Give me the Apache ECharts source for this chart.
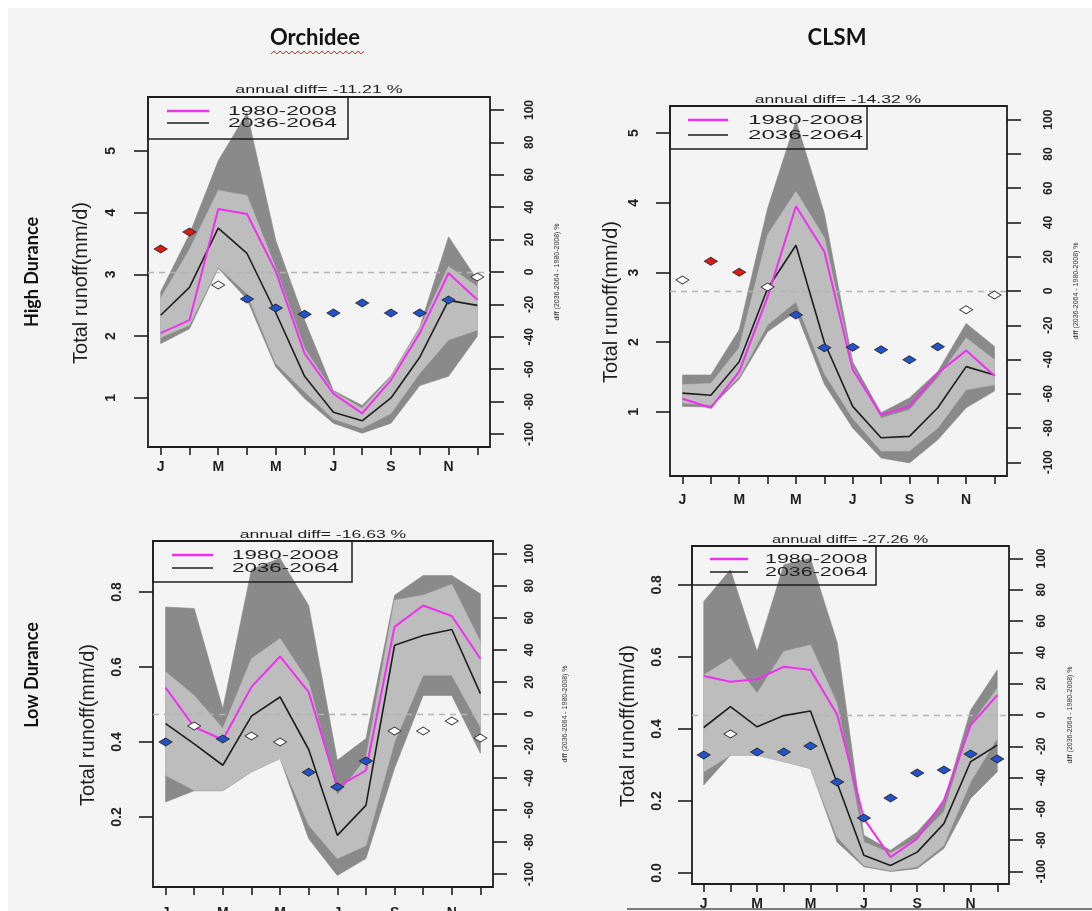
<!DOCTYPE html>
<html><head><meta charset="utf-8">
<script src="https://cdn.jsdelivr.net/npm/echarts@6.0.0/dist/echarts.min.js"></script>
<style>html,body{margin:0;padding:0;background:#f4f4f4}#c{width:1092px;height:911px}</style>
</head><body><div id="c"></div>
<script>
// ---------- data ----------
const months = ['J','F','M','A','M','J','J','A','S','O','N','D'];
const monthPos = [1,2,3,4,5,6,7,8,9,10,11,12];
const xLabelPos = [1,3,5,7,9,11];
const leftTicksHigh = [1,2,3,4,5];
const leftTicksLowOrc = [0.2,0.4,0.6,0.8];
const leftTicksLowClsm = [0.0,0.2,0.4,0.6,0.8];
const rightTicks = [-100,-80,-60,-40,-20,0,20,40,60,80,100];
const legendLabels = ['1980-2008','2036-2064'];
const modelTitles = ['Orchidee','CLSM'];
const basinLabels = ['High Durance','Low Durance'];
const yTitle = 'Total runoff(mm/d)';
const diffTitle = 'diff (2036-2064 - 1980-2008) %';
const annualDiff = ['-11.21','-14.32','-16.63','-27.26'];

// High Durance - Orchidee
const hiOrcHist  = [2.05,2.26,4.06,3.98,3.05,1.72,1.07,0.75,1.29,2.05,3.02,2.59];
const hiOrcFut   = [2.34,2.79,3.75,3.34,2.38,1.35,0.77,0.63,1.00,1.66,2.58,2.50];
const hiOrcDarkHi= [2.72,3.65,4.84,5.62,3.55,2.26,1.12,0.88,1.36,2.15,3.61,2.91];
const hiOrcDarkLo= [1.88,2.12,3.10,2.60,1.50,0.99,0.59,0.43,0.59,1.20,1.35,2.00];
const hiOrcLiteHi= [2.62,3.40,4.36,4.28,3.10,1.80,1.10,0.83,1.34,2.13,3.13,2.80];
const hiOrcLiteLo= [1.98,2.18,3.12,2.69,1.56,1.10,0.66,0.51,0.75,1.40,1.94,2.10];
const hiOrcDiff  = [14.2,24.7,-8.0,-16.7,-22.2,-26.0,-25.3,-19.1,-25.3,-25.3,-17.3,-3.1];
const hiOrcSig   = ['r','r','w','b','b','b','b','b','b','b','b','w'];

// High Durance - CLSM
const hiClsmHist  = [1.19,1.06,1.58,2.65,3.95,3.30,1.61,0.96,1.08,1.56,1.88,1.52];
const hiClsmFut   = [1.27,1.24,1.72,2.77,3.39,2.00,1.08,0.63,0.65,1.06,1.65,1.53];
const hiClsmDarkHi= [1.53,1.53,2.18,3.92,5.18,3.85,1.72,0.99,1.20,1.58,2.27,1.94];
const hiClsmDarkLo= [1.08,1.07,1.47,2.15,2.44,1.40,0.77,0.34,0.27,0.60,1.06,1.30];
const hiClsmLiteHi= [1.39,1.41,1.92,3.54,4.16,3.50,1.65,0.91,1.03,1.49,2.06,1.75];
const hiClsmLiteLo= [1.13,1.10,1.50,2.25,2.58,1.55,0.91,0.44,0.44,0.77,1.32,1.39];
const hiClsmDiff  = [6.4,17.4,11.0,2.3,-14.0,-33.1,-32.9,-34.3,-40.1,-32.6,-11.0,-2.3];
const hiClsmSig   = ['w','r','r','w','b','b','b','b','b','b','w','w'];

// Low Durance - Orchidee
const loOrcHist  = [0.545,0.440,0.406,0.547,0.628,0.533,0.280,0.324,0.707,0.764,0.736,0.622];
const loOrcFut   = [0.449,0.395,0.338,0.469,0.520,0.380,0.151,0.231,0.658,0.684,0.700,0.529];
const loOrcDarkHi= [0.760,0.756,0.489,0.860,0.890,0.764,0.351,0.409,0.791,0.844,0.844,0.795];
const loOrcDarkLo= [0.240,0.270,0.270,0.320,0.356,0.142,0.044,0.089,0.330,0.524,0.524,0.370];
const loOrcLiteHi= [0.587,0.524,0.436,0.622,0.676,0.560,0.258,0.356,0.778,0.791,0.820,0.667];
const loOrcLiteLo= [0.311,0.271,0.271,0.320,0.356,0.178,0.089,0.124,0.400,0.578,0.578,0.440];
const loOrcDiff  = [-17.5,-7.5,-15.6,-13.8,-17.5,-36.3,-45.6,-29.4,-10.6,-10.6,-4.4,-15.0];
const loOrcSig   = ['b','w','b','w','w','b','b','b','w','w','w','w'];

// Low Durance - CLSM
const loClsmHist  = [0.547,0.531,0.538,0.573,0.564,0.440,0.151,0.044,0.095,0.202,0.410,0.494];
const loClsmFut   = [0.404,0.462,0.406,0.437,0.450,0.250,0.049,0.021,0.058,0.137,0.309,0.355];
const loClsmDarkHi= [0.754,0.842,0.615,0.856,0.874,0.640,0.105,0.063,0.114,0.197,0.452,0.564];
const loClsmDarkLo= [0.244,0.327,0.327,0.309,0.290,0.085,0.017,0.004,0.012,0.068,0.207,0.281];
const loClsmLiteHi= [0.550,0.596,0.499,0.615,0.633,0.470,0.086,0.055,0.095,0.170,0.410,0.513];
const loClsmLiteLo= [0.281,0.327,0.327,0.309,0.290,0.100,0.021,0.007,0.017,0.077,0.253,0.374];
const loClsmDiff  = [-25.6,-12.1,-23.6,-23.6,-19.8,-42.8,-65.8,-53.0,-37.1,-35.1,-24.9,-28.1];
const loClsmSig   = ['b','w','b','b','b','b','b','b','b','b','b','b'];

// ---------- layout / style ----------
const C_DARK = '#8a8a8a', C_LITE = '#bdbdbd', C_MAG = '#f030f0', C_BLK = '#1e1e1e';
const sigColor = {r:'#e01a14', b:'#2252cc', w:'#ffffff'};
const FONT = 'Liberation Sans';

const panels = [
  {hist:hiOrcHist, fut:hiOrcFut, dHi:hiOrcDarkHi, dLo:hiOrcDarkLo, lHi:hiOrcLiteHi, lLo:hiOrcLiteLo, diff:hiOrcDiff, sig:hiOrcSig, ticks:leftTicksHigh, dec:0,
   box:[148,97,490,447], yMin:0.206, yMax:5.874, lM:30, nG:57, rM:34, rG:64, xM:13,
   leg:{x1:348,y1:139,lx0:167,lx1:209,tx:228,ya:111,yb:123,s:1.75}, ann:{x:319,y:90,s:1.62}},
  {hist:hiClsmHist, fut:hiClsmFut, dHi:hiClsmDarkHi, dLo:hiClsmDarkLo, lHi:hiClsmLiteHi, lLo:hiClsmLiteLo, diff:hiClsmDiff, sig:hiClsmSig, ticks:leftTicksHigh, dec:0,
   box:[670,106,1007,476], yMin:0.082, yMax:5.387, lM:29, nG:49, rM:36, rG:66, xM:17,
   leg:{x1:867,y1:149,lx0:688,lx1:728,tx:748,ya:120,yb:135,s:1.85}, ann:{x:838,y:100,s:1.6}},
  {hist:loOrcHist, fut:loOrcFut, dHi:loOrcDarkHi, dLo:loOrcDarkLo, lHi:loOrcLiteHi, lLo:loOrcLiteLo, diff:loOrcDiff, sig:loOrcSig, ticks:leftTicksLowOrc, dec:1,
   box:[153,541,493,887], yMin:0.0133, yMax:0.936, lM:29, nG:55, rM:31, rG:69, xM:19,
   leg:{x1:352,y1:582,lx0:172,lx1:213,tx:232,ya:555,yb:568,s:1.72}, ann:{x:323,y:535,s:1.6}},
  {hist:loClsmHist, fut:loClsmFut, dHi:loClsmDarkHi, dLo:loClsmDarkLo, lHi:loClsmLiteHi, lLo:loClsmLiteLo, diff:loClsmDiff, sig:loClsmSig, ticks:leftTicksLowClsm, dec:1,
   box:[692,546,1009,884], yMin:-0.0306, yMax:0.908, lM:28, nG:54, rM:27, rG:58, xM:13,
   leg:{x1:876,y1:585,lx0:710,lx1:748,tx:765,ya:559,yb:572,s:1.65}, ann:{x:850,y:540,s:1.5}}
];

const grids = [], xAxes = [], yAxes = [], series = [], graphics = [];

function bandSeries(p, lo, hi, color, z) {
  return {
    type:'custom', xAxisIndex:p, yAxisIndex:2*p, z:z, silent:true,
    data: monthPos.map((m,i) => [m, lo[i], hi[i]]),
    encode:{x:0, y:[1,2]},
    renderItem: function (params, api) {
      if (params.dataIndex !== 0) return null;
      const pts = [];
      for (let i = 0; i < monthPos.length; i++) pts.push(api.coord([monthPos[i], hi[i]]));
      for (let i = monthPos.length - 1; i >= 0; i--) pts.push(api.coord([monthPos[i], lo[i]]));
      return {type:'polygon', shape:{points:pts}, style:{fill:color, stroke:color, lineWidth:0.6}};
    }
  };
}

panels.forEach((P, p) => {
  const [x0,y0,x1,y1] = P.box;
  grids.push({left:x0, top:y0, width:x1-x0, height:y1-y0, show:true, borderColor:'#1e1e1e', borderWidth:1.8,
              backgroundColor:'transparent', containLabel:false, outerBoundsMode:'none'});
  xAxes.push({gridIndex:p, type:'value', min:0.56, max:12.44, position:'bottom',
    axisLine:{show:false, onZero:false}, splitLine:{show:false},
    axisTick:{show:true, customValues:monthPos, length:8, lineStyle:{color:'#1e1e1e', width:1.6}},
    axisLabel:{show:true, customValues:xLabelPos, formatter: v => months[Math.round(v)-1], margin:P.xM,
      fontSize:14, fontWeight:'bold', color:'#1e1e1e', fontFamily:FONT}});
  yAxes.push({gridIndex:p, type:'value', position:'left', min:P.yMin, max:P.yMax,
    axisLine:{show:false, onZero:false}, splitLine:{show:false},
    axisTick:{show:true, customValues:P.ticks, length:14, lineStyle:{color:'#1e1e1e', width:1.6}},
    axisLabel:{show:true, customValues:P.ticks, rotate:90, margin:P.lM,
      formatter: v => P.dec ? Number(v).toFixed(1) : String(Math.round(v)),
      fontSize:14, fontWeight:'bold', color:'#222', fontFamily:FONT},
    name:yTitle, nameLocation:'middle', nameRotate:90, nameGap:P.nG,
    nameTextStyle:{fontSize:20, color:'#1e1e1e', fontFamily:FONT, padding:[0,22,0,0]}});
  yAxes.push({gridIndex:p, type:'value', position:'right', min:-108, max:108,
    axisLine:{show:false, onZero:false}, splitLine:{show:false},
    axisTick:{show:true, customValues:rightTicks, length:14, lineStyle:{color:'#1e1e1e', width:1.6}},
    axisLabel:{show:true, customValues:rightTicks, rotate:90, margin:P.rM,
      formatter: v => String(Math.round(v)), fontSize:12, fontWeight:'bold', color:'#222', fontFamily:FONT},
    name:diffTitle, nameLocation:'middle', nameRotate:90, nameGap:P.rG,
    nameTextStyle:{fontSize:7, color:'#333', fontFamily:FONT}});

  series.push(bandSeries(p, P.dLo, P.dHi, C_DARK, 1));
  series.push(bandSeries(p, P.lLo, P.lHi, C_LITE, 2));
  series.push({type:'line', xAxisIndex:p, yAxisIndex:2*p+1, z:3, silent:true,
    data: monthPos.map((m,i) => [m, P.diff[i]]), symbol:'none', lineStyle:{opacity:0},
    markLine:{silent:true, symbol:['none','none'], label:{show:false}, animation:false,
      lineStyle:{type:[6,5], color:'#b4b4b4', width:1.3}, data:[{yAxis:0}]}});
  series.push({type:'line', xAxisIndex:p, yAxisIndex:2*p, z:5, silent:true,
    data: monthPos.map((m,i) => [m, P.fut[i]]), symbol:'none', lineStyle:{color:C_BLK, width:1.6}});
  series.push({type:'line', xAxisIndex:p, yAxisIndex:2*p, z:6, silent:true,
    data: monthPos.map((m,i) => [m, P.hist[i]]), symbol:'none', lineStyle:{color:C_MAG, width:2}});
  series.push({type:'scatter', xAxisIndex:p, yAxisIndex:2*p+1, z:7, silent:true,
    symbol:'diamond', symbolSize:[13,8],
    data: P.diff.map((v,i) => ({value:[monthPos[i], v],
      itemStyle:{color:sigColor[P.sig[i]], borderColor:'#2a2a2a', borderWidth:0.9, opacity:1}}))});

  // legend
  const L = P.leg;
  graphics.push({type:'rect', z:100, shape:{x:x0, y:y0, width:L.x1-x0, height:L.y1-y0},
    style:{fill:'none', stroke:'#1e1e1e', lineWidth:1.5}});
  graphics.push({type:'line', z:100, shape:{x1:L.lx0, y1:L.ya, x2:L.lx1, y2:L.ya}, style:{stroke:C_MAG, lineWidth:2.5}});
  graphics.push({type:'line', z:100, shape:{x1:L.lx0, y1:L.yb, x2:L.lx1, y2:L.yb}, style:{stroke:C_BLK, lineWidth:1.6}});
  [L.ya, L.yb].forEach((yy, k) => graphics.push({type:'text', z:100, x:L.tx, y:yy, scaleX:L.s,
    style:{text:legendLabels[k], fontSize:13, fontFamily:FONT, fill:'#1e1e1e',
      align:'left', textAlign:'left', verticalAlign:'middle', textVerticalAlign:'middle'}}));
  // annual diff
  graphics.push({type:'text', z:100, x:P.ann.x, y:P.ann.y, scaleX:P.ann.s,
    style:{text:'annual diff= ' + annualDiff[p] + ' %', fontSize:11, fontFamily:FONT, fill:'#1e1e1e',
      align:'center', textAlign:'center', verticalAlign:'middle', textVerticalAlign:'middle'}});
});

// page decorations & titles
graphics.push({type:'rect', z:0, shape:{x:0, y:0, width:1092, height:8}, style:{fill:'#ffffff'}});
graphics.push({type:'rect', z:0, shape:{x:0, y:0, width:8, height:911}, style:{fill:'#ffffff'}});
graphics.push({type:'line', z:100, shape:{x1:627, y1:909, x2:1092, y2:909}, style:{stroke:'#555', lineWidth:1.5}});
[[315,38],[837,38]].forEach((pos,k) => graphics.push({type:'text', z:100, x:pos[0], y:pos[1],
  style:{text:modelTitles[k], fontSize:22, fontWeight:'bold', fontFamily:'Lato', fill:'#111',
    align:'center', textAlign:'center', verticalAlign:'middle', textVerticalAlign:'middle'}}));
const squig = [];
for (let x = 271, k = 0; x <= 365; x += 3, k++) squig.push([x, k % 2 ? 51 : 54]);
graphics.push({type:'polyline', z:100, shape:{points:squig}, style:{stroke:'#e03030', lineWidth:1, fill:'none'}});
[[32,272],[32,675]].forEach((pos,k) => graphics.push({type:'text', z:100, x:pos[0], y:pos[1], rotation:Math.PI/2,
  style:{text:basinLabels[k], fontSize:18, fontWeight:'bold', fontFamily:'Lato', fill:'#111',
    align:'center', textAlign:'center', verticalAlign:'middle', textVerticalAlign:'middle'}}));

const chart = echarts.init(document.getElementById('c'), null, {renderer:'canvas'});
chart.setOption({
  animation:false, backgroundColor:'#f4f4f4',
  grid:grids, xAxis:xAxes, yAxis:yAxes, series:series, graphic:{elements:graphics}
});
</script></body></html>
